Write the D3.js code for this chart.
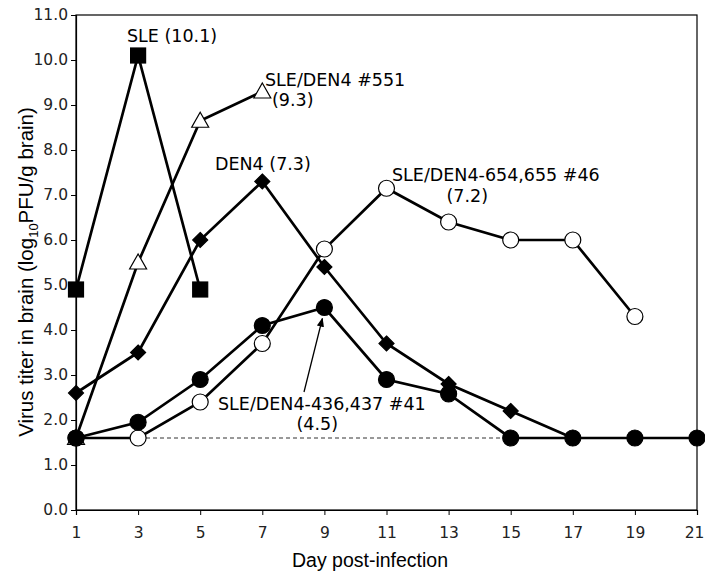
<!DOCTYPE html>
<html><head><meta charset="utf-8">
<script src="https://cdn.jsdelivr.net/npm/d3@7"></script>
<style>body{margin:0;background:#fff}</style>
</head><body>
<script>
const xTicks = [1,3,5,7,9,11,13,15,17,19,21];
const yTicks = [0,1,2,3,4,5,6,7,8,9,10,11];
const detectionLimit = 1.6;

const sleDays = [1,3,5];
const sleVals = [4.9,10.1,4.9];
const s551Days = [1,3,5,7];
const s551Vals = [1.6,5.5,8.65,9.3];
const den4Days = [1,3,5,7,9,11,13,15,17];
const den4Vals = [2.6,3.5,6.0,7.3,5.4,3.7,2.8,2.2,1.6];
const s41Days = [1,3,5,7,9,11,13,15,17,19,21];
const s41Vals = [1.6,1.95,2.9,4.1,4.5,2.9,2.58,1.6,1.6,1.6,1.6];
const s46Days = [1,3,5,7,9,11,13,15,17,19];
const s46Vals = [1.6,1.6,2.4,3.7,5.8,7.15,6.4,6.0,6.0,4.3];

const W = 705, H = 577;
const m = {l:76, r:8, t:15, b:67};
const svg = d3.select("body").append("svg").attr("width",W).attr("height",H);
const x = d3.scaleLinear().domain([1,21]).range([m.l, W-m.r]);
const y = d3.scaleLinear().domain([0,11]).range([H-m.b, m.t]);

svg.append("rect").attr("x",x(1)).attr("y",y(11)).attr("width",x(21)-x(1)).attr("height",y(0)-y(11))
  .attr("fill","none").attr("stroke","#000").attr("stroke-width",1.2);

const fontT = "DejaVu Sans, Verdana, sans-serif";
const yAxis = svg.append("g").attr("transform",`translate(${x(1)},0)`)
  .call(d3.axisLeft(y).tickValues(yTicks).tickFormat(d3.format(".1f")).tickSize(5).tickPadding(3));
const xAxis = svg.append("g").attr("transform",`translate(0,${y(0)})`)
  .call(d3.axisBottom(x).tickValues(xTicks).tickFormat(d3.format("d")).tickSize(5).tickPadding(12));
[yAxis,xAxis].forEach(g=>{
  g.select(".domain").attr("stroke","#000").attr("stroke-width",1.2);
  g.selectAll(".tick line").attr("stroke","#000");
  g.selectAll(".tick text").attr("font-family",fontT).attr("font-size",15.5).attr("fill","#222");
});
xAxis.selectAll(".tick text").filter(d=>d===21).attr("dx",-3);

svg.append("line").attr("x1",x(1)).attr("x2",x(21)).attr("y1",y(detectionLimit)).attr("y2",y(detectionLimit))
  .attr("stroke","#333").attr("stroke-width",1).attr("stroke-dasharray","4,3");

const series = [
  {d:sleDays, v:sleVals, shape:"square", fill:"#000"},
  {d:s551Days, v:s551Vals, shape:"triangle", fill:"#fff"},
  {d:den4Days, v:den4Vals, shape:"diamond", fill:"#000"},
  {d:s46Days, v:s46Vals, shape:"circle", fill:"#fff"},
  {d:s41Days, v:s41Vals, shape:"circle", fill:"#000"}
];
const line = d3.line().x(p=>x(p[0])).y(p=>y(p[1]));
series.forEach(s=>{
  svg.append("path").datum(s.d.map((d,i)=>[d,s.v[i]])).attr("d",line)
    .attr("fill","none").attr("stroke","#000").attr("stroke-width",2.7);
});
const order = [series[1],series[0],series[2],series[3],series[4]];
order.forEach(s=>{
  const g = svg.append("g");
  s.d.forEach((d,i)=>{
    const cx = x(d), cy = y(s.v[i]);
    let el;
    if(s.shape==="square"){
      el = g.append("rect").attr("x",cx-7.5).attr("y",cy-7.5).attr("width",15).attr("height",15);
    } else if(s.shape==="circle"){
      el = g.append("circle").attr("cx",cx).attr("cy",cy).attr("r",8);
    } else if(s.shape==="diamond"){
      el = g.append("path").attr("d",`M${cx},${cy-7.5}L${cx+7.5},${cy}L${cx},${cy+7.5}L${cx-7.5},${cy}Z`);
    } else {
      el = g.append("path").attr("d",`M${cx},${cy-8.5}L${cx+8.5},${cy+6.5}L${cx-8.5},${cy+6.5}Z`);
    }
    el.attr("fill",s.fill).attr("stroke","#000").attr("stroke-width",1.2);
  });
});

const ann = [
  ["SLE (10.1)",127,41.5],
  ["SLE/DEN4 #551",265,86],
  ["(9.3)",272,106],
  ["DEN4 (7.3)",215,169.5],
  ["SLE/DEN4-654,655 #46",392,180.5],
  ["(7.2)",446.5,201.5],
  ["SLE/DEN4-436,437 #41",218,409.5],
  ["(4.5)",296.5,430]
];
ann.forEach(a=>{
  svg.append("text").attr("x",a[1]).attr("y",a[2]).text(a[0])
    .attr("font-family",fontT).attr("font-size",17.5).attr("fill","#000");
});
svg.append("defs").append("marker").attr("id","ah").attr("viewBox","0 0 10 10").attr("refX",9).attr("refY",5)
  .attr("markerWidth",7).attr("markerHeight",7).attr("orient","auto")
  .append("path").attr("d","M0,1L10,5L0,9Z").attr("fill","#000");
svg.append("line").attr("x1",304).attr("y1",392).attr("x2",x(9)-2).attr("y2",y(4.5)+11)
  .attr("stroke","#000").attr("stroke-width",1.3).attr("marker-end","url(#ah)");

svg.append("text").attr("x",370).attr("y",567).attr("text-anchor","middle")
  .attr("font-family","Liberation Sans, Arial, sans-serif").attr("font-size",19.5).text("Day post-infection");
const yt = svg.append("text").attr("transform",`translate(33,272) rotate(-90)`)
  .attr("text-anchor","middle").attr("font-family","Liberation Sans, Arial, sans-serif").attr("font-size",20.5);
yt.append("tspan").text("Virus titer in brain (log");
yt.append("tspan").attr("font-size",13).attr("dy",5).text("10");
yt.append("tspan").attr("dy",-5).text("PFU/g brain)");
</script>
</body></html>
